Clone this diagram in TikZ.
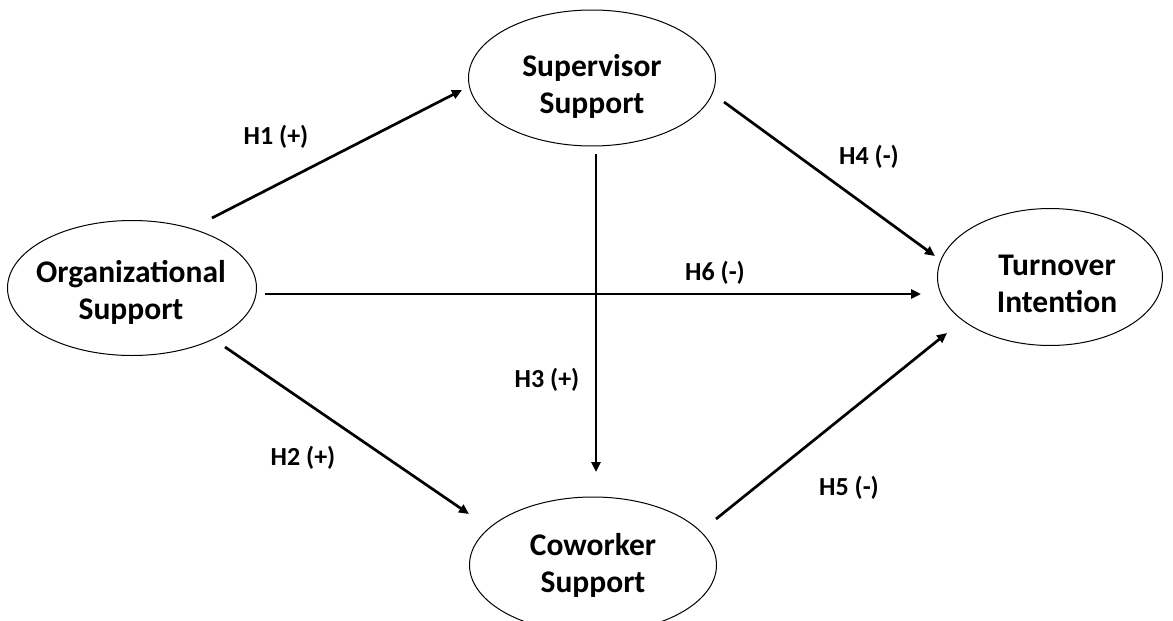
\documentclass[tikz,border=0pt]{standalone}
\usepackage{fontspec}
\setmainfont{Carlito}
\usetikzlibrary{shapes.geometric,arrows.meta}
\begin{document}
\begin{tikzpicture}[x=1pt,y=-1pt,
  construct/.style={draw=black,line width=1pt,ellipse,inner sep=0pt},
  ctext/.style={font=\bfseries\fontsize{31.5}{37}\selectfont,align=center,inner sep=0pt},
  hlabel/.style={font=\bfseries\fontsize{26}{30}\selectfont,inner sep=0pt},
  path/.style={line width=2.7pt,-{Triangle[length=10pt,width=9pt]}}]
\useasboundingbox (0,0) rectangle (1173,621);

% constructs
\node[construct,minimum width=249pt,minimum height=135pt] (org) at (132,288) {};
\node[construct,minimum width=247pt,minimum height=136pt] (sup) at (592,78) {};
\node[construct,minimum width=225pt,minimum height=137pt] (tur) at (1050,277) {};
\node[construct,minimum width=247pt,minimum height=136pt] (cow) at (593,565) {};

\node[ctext] (orgt) at (131,292) {Organizational\\Support};
\node[ctext] (supt) at (592,86) {Supervisor\\Support};
\node[ctext] (turt) at (1057,284) {Turnover\\Intention};
\node[ctext] (cowt) at (593,565) {Coworker\\Support};

% path end points
\coordinate (h1s) at (212,218); \coordinate (h1e) at (462,90);
\coordinate (h2s) at (225,347); \coordinate (h2e) at (469,514);
\coordinate (h3s) at (596,154); \coordinate (h3e) at (596,472);
\coordinate (h4s) at (724,102); \coordinate (h4e) at (935,256);
\coordinate (h5s) at (716,519); \coordinate (h5e) at (947,333);
\coordinate (h6s) at (265,294); \coordinate (h6e) at (921,294);

\draw[path] (h1s) -- (h1e);
\draw[path] (h2s) -- (h2e);
\draw[path] (h3s) -- (h3e);
\draw[path] (h4s) -- (h4e);
\draw[path] (h5s) -- (h5e);
\draw[path] (h6s) -- (h6e);

% hypothesis labels
\node[hlabel] (l1) at (276,137) {H1 (+)};
\node[hlabel] (l2) at (303,458) {H2 (+)};
\node[hlabel] (l3) at (547,380) {H3 (+)};
\node[hlabel] (l4) at (869,157) {H4 (-)};
\node[hlabel] (l5) at (849,488) {H5 (-)};
\node[hlabel] (l6) at (715,273) {H6 (-)};
\end{tikzpicture}
\end{document}
